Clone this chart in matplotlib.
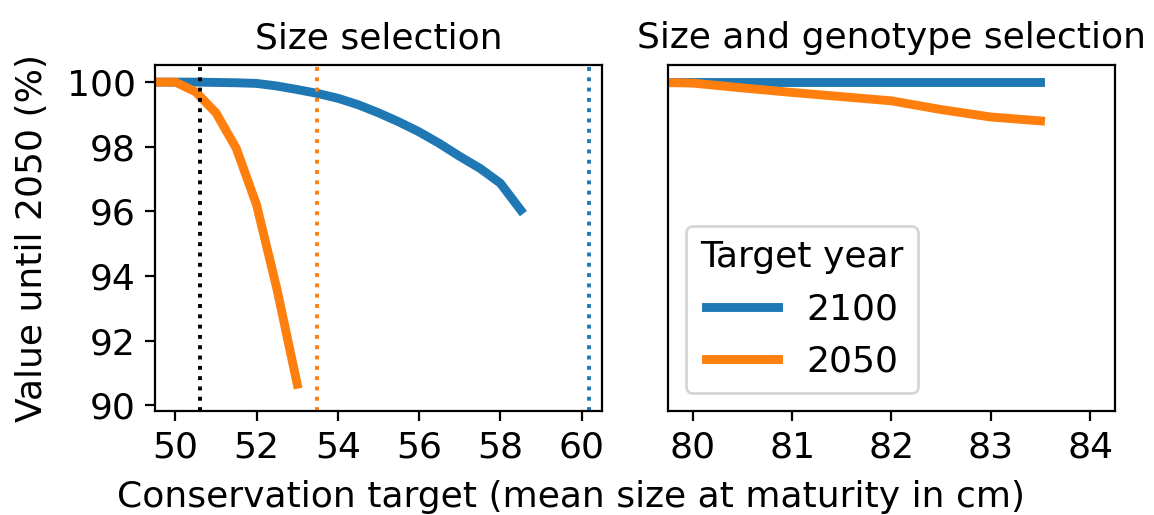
import numpy as np
import matplotlib
matplotlib.use("Agg")
import matplotlib.pyplot as plt

plt.rcParams["font.size"] = 13

# size selection only
size_x_2100 = [49.5, 50.0, 50.5, 51.0, 51.5, 52.0, 52.5, 53.0, 53.5, 54.0,
               54.5, 55.0, 55.5, 56.0, 56.5, 57.0, 57.5, 58.0, 58.5]
size_v_2100 = [100.0, 100.0, 100.0, 99.99, 99.98, 99.96, 99.88, 99.77, 99.65, 99.5,
               99.3, 99.05, 98.77, 98.46, 98.1, 97.7, 97.33, 96.87, 96.04]
size_x_2050 = [49.5, 50.0, 50.5, 51.0, 51.5, 52.0, 52.5, 53.0]
size_v_2050 = [100.0, 100.0, 99.7, 99.05, 97.95, 96.2, 93.6, 90.65]

# size and genotype selection
geno_x = [79.5, 80.0, 80.5, 81.0, 81.5, 82.0, 82.5, 83.0, 83.5]
geno_v_2100 = [100.0, 100.0, 100.0, 100.0, 100.0, 100.0, 100.0, 100.0, 100.0]
geno_v_2050 = [100.0, 99.97, 99.82, 99.68, 99.55, 99.42, 99.15, 98.92, 98.8]

# reference sizes
current_size = 50.6
target_2050 = 53.48
target_2100 = 60.18

blue = "#1f77b4"
orange = "#ff7f0e"

fig, (ax1, ax2) = plt.subplots(1, 2, sharey=True, figsize=(5.77, 2.575), dpi=200)
fig.subplots_adjust(left=0.1343, right=0.9662, top=0.8738, bottom=0.2019, wspace=0.1477)

ax1.plot(size_x_2100, size_v_2100, color=blue, lw=3.2, label="2100")
ax1.plot(size_x_2050, size_v_2050, color=orange, lw=3.2, label="2050")
ax1.axvline(current_size, color="black", ls=":", lw=1.4)
ax1.axvline(target_2050, color=orange, ls=":", lw=1.4)
ax1.axvline(target_2100, color=blue, ls=":", lw=1.4)
ax1.set_xlim(49.5, 60.5)
ax1.set_ylim(89.82, 100.53)
ax1.set_xticks([50, 52, 54, 56, 58, 60])
ax1.set_yticks([90, 92, 94, 96, 98, 100])
ax1.set_title("Size selection", fontsize=13)
ax1.set_ylabel("Value until 2050 (%)")
ax1.yaxis.set_label_coords(-0.237, 0.5)

ax2.plot(geno_x, geno_v_2100, color=blue, lw=3.2, label="2100")
ax2.plot(geno_x, geno_v_2050, color=orange, lw=3.2, label="2050")
ax2.set_xlim(79.75, 84.25)
ax2.set_xticks([80, 81, 82, 83, 84])
ax2.tick_params(left=False, labelleft=False)
ax2.set_title("Size and genotype selection", fontsize=13)
ax2.legend(title="Target year", loc="lower left", title_fontsize=13)

fig.text(0.495, 0.0155, "Conservation target (mean size at maturity in cm)",
         ha="center", va="baseline")

plt.savefig("out.png", dpi=200)
